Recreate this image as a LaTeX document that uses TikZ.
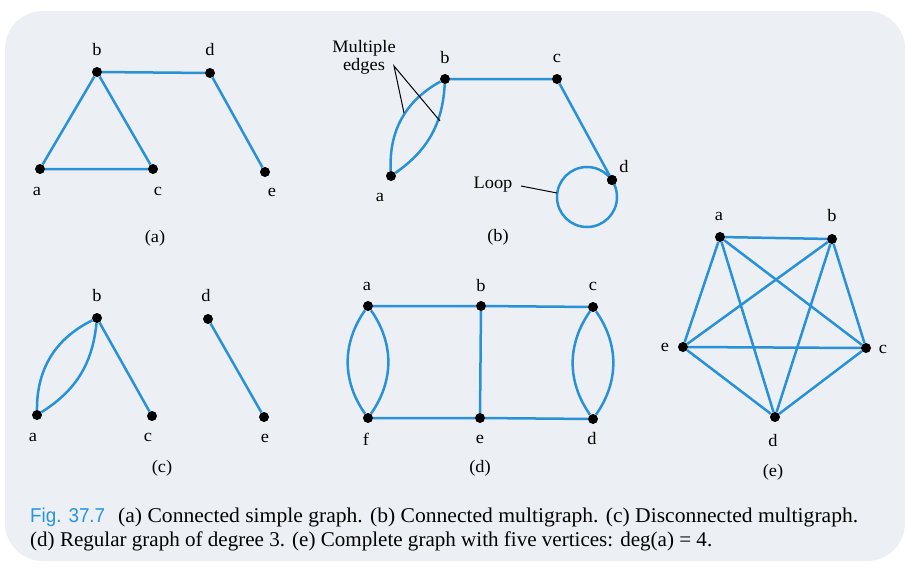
\documentclass[tikz,border=0pt]{standalone}
\usepackage{fontspec}
\setmainfont[FakeStretch=1.05]{Liberation Serif}
\newfontfamily\capsans{Liberation Sans}
\definecolor{edgeblue}{RGB}{40,145,215}
\definecolor{figblue}{RGB}{38,150,218}
\definecolor{bgc}{RGB}{236,240,244}
\tikzset{
  dot/.style={circle,fill=black,inner sep=0pt,minimum size=10pt},
  edge/.style={draw=edgeblue,line width=2.5pt},
  lbl/.style={font=\fontsize{17.5}{19}\selectfont,inner sep=0pt},
  pointer/.style={draw=black,line width=1pt},
}
\begin{document}
\begin{tikzpicture}[x=1pt,y=-1pt]
\path[use as bounding box] (0,0) rectangle (908,571);
\fill[white] (0,0) rectangle (908,571);
\fill[bgc,rounded corners=38pt] (5,11) rectangle (905,561);

% (a)
\node[dot] (aa) at (40,169) {};
\node[dot] (ab) at (97,72) {};
\node[dot] (ac) at (153,169) {};
\node[dot] (ad) at (210,73) {};
\node[dot] (ae) at (265,172) {};
\draw[edge] (aa) -- (ab) -- (ac) -- (aa);
\draw[edge] (ab) -- (ad) -- (ae);
\node[lbl] (laa) at (37,191) {a};
\node[lbl] (lab) at (97,50) {b};
\node[lbl] (lac) at (158,191) {c};
\node[lbl] (lad) at (210,50) {d};
\node[lbl] (lae) at (272,192) {e};
\node[lbl] (capa) at (155,238) {(a)};

% (b)
\node[dot] (ba) at (391,176) {};
\node[dot] (bb) at (445,79) {};
\node[dot] (bc) at (557,79) {};
\node[dot] (bd) at (612,180) {};
\draw[edge] (ba) to[bend left=32] (bb);
\draw[edge] (ba) to[bend right=26] (bb);
\draw[edge] (bb) -- (bc) -- (bd);
\coordinate (loopc) at (587,197);
\draw[draw=edgeblue,line width=2.5pt] (loopc) circle (30pt);
\node[dot] (bd2) at (612,180) {};
\node[lbl] (lba) at (380,197) {a};
\node[lbl] (lbb) at (445,58) {b};
\node[lbl] (lbc) at (557,58) {c};
\node[lbl] (lbd) at (624,167) {d};
\node[lbl] (capb) at (498,237) {(b)};
\node[lbl,align=center] (multi) at (364,57) {Multiple\\[-1pt]edges};
\coordinate (mp) at (394,66);
\coordinate (m1) at (404,113);
\coordinate (m2) at (440,121);
\draw[pointer] (m1) -- (mp) -- (m2);
\node[lbl] (loopl) at (493,185) {Loop};
\coordinate (lp1) at (521,186);
\coordinate (lp2) at (557,193);
\draw[pointer] (lp1) -- (lp2);

% (c)
\node[dot] (ca) at (37,415) {};
\node[dot] (cb) at (97,318) {};
\node[dot] (cc) at (152,416) {};
\node[dot] (cd) at (208,319) {};
\node[dot] (ce) at (264,417) {};
\draw[edge] (ca) to[bend left=32] (cb);
\draw[edge] (ca) to[bend right=26] (cb);
\draw[edge] (cb) -- (cc);
\draw[edge] (cd) -- (ce);
\node[lbl] (lca) at (33,437) {a};
\node[lbl] (lcb) at (97,296) {b};
\node[lbl] (lcc) at (148,437) {c};
\node[lbl] (lcd) at (206,296) {d};
\node[lbl] (lce) at (265,438) {e};
\node[lbl] (capc) at (162,468) {(c)};

% (d)
\node[dot] (da) at (368,306) {};
\node[dot] (db) at (481,306) {};
\node[dot] (dc) at (593,307) {};
\node[dot] (df) at (368,418) {};
\node[dot] (de) at (480,418) {};
\node[dot] (dd) at (593,419) {};
\draw[edge] (da) -- (db) -- (dc);
\draw[edge] (df) -- (de) -- (dd);
\draw[edge] (db) -- (de);
\draw[edge] (da) to[bend left=35] (df);
\draw[edge] (da) to[bend right=35] (df);
\draw[edge] (dc) to[bend left=35] (dd);
\draw[edge] (dc) to[bend right=35] (dd);
\node[lbl] (lda) at (367,286) {a};
\node[lbl] (ldb) at (481,286) {b};
\node[lbl] (ldc) at (593,286) {c};
\node[lbl] (ldf) at (366,439) {f};
\node[lbl] (lde) at (480,439) {e};
\node[lbl] (ldd) at (592,439) {d};
\node[lbl] (capd) at (480,468) {(d)};

% (e)
\node[dot] (ea) at (720,237) {};
\node[dot] (eb) at (832,239) {};
\node[dot] (ec) at (866,348) {};
\node[dot] (ed) at (775,417) {};
\node[dot] (ee) at (683,347) {};
\foreach \u/\v in {ea/eb,ea/ec,ea/ed,ea/ee,eb/ec,eb/ed,eb/ee,ec/ed,ec/ee,ed/ee}
  \draw[edge] (\u) -- (\v);
\node[lbl] (lea) at (719,216) {a};
\node[lbl] (leb) at (832,216) {b};
\node[lbl] (lec) at (883,349) {c};
\node[lbl] (lee) at (665,347) {e};
\node[lbl] (led) at (773,441) {d};
\node[lbl] (cape) at (773,472) {(e)};

% caption
\node[anchor=base west,inner sep=0pt,text=figblue,font=\capsans\fontsize{20}{22}\selectfont] (figno) at (30,522) {\resizebox{75pt}{\height}{Fig. 37.7}};
\node[anchor=base west,inner sep=0pt,font=\fontsize{21}{24}\selectfont] (cap1) at (118,522)
  {\resizebox{740pt}{\height}{(a) Connected simple graph. (b) Connected multigraph. (c) Disconnected multigraph.}};
\node[anchor=base west,inner sep=0pt,font=\fontsize{21}{24}\selectfont] (cap2) at (30,546)
  {\resizebox{682pt}{\height}{(d) Regular graph of degree 3. (e) Complete graph with five vertices: deg(a) = 4.}};
\end{tikzpicture}
\end{document}
